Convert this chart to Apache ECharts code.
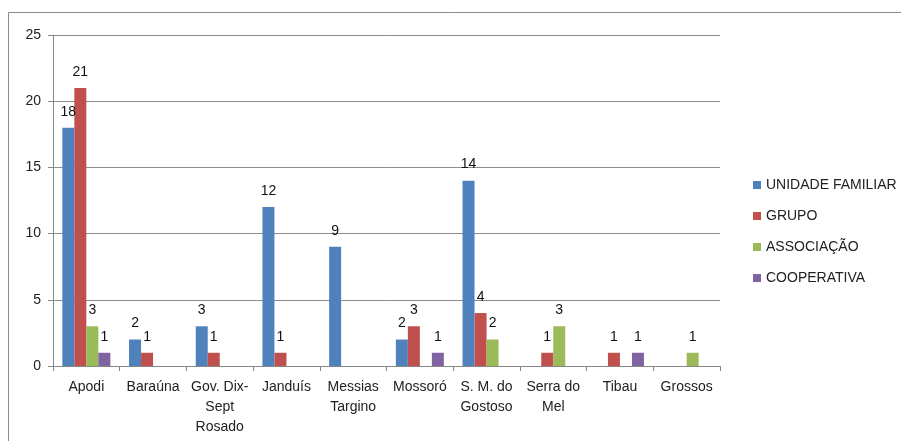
<!DOCTYPE html>
<html>
<head>
<meta charset="utf-8">
<script src="https://cdn.jsdelivr.net/npm/echarts@6/dist/echarts.min.js"></script>
<style>
  html, body { margin: 0; padding: 0; background: #fff; }
  #chart { width: 901px; height: 441px; }
</style>
</head>
<body>
<div id="chart"></div>
<script>
// categorias (municípios)
const categories = ['Apodi', 'Baraúna', 'Gov. Dix-\nSept\nRosado', 'Janduís', 'Messias\nTargino',
  'Mossoró', 'S. M. do\nGostoso', 'Serra do\nMel', 'Tibau', 'Grossos']
const seriesNames = ['UNIDADE FAMILIAR', 'GRUPO', 'ASSOCIAÇÃO', 'COOPERATIVA']
// null = sem barra
const unidadeFamiliar = [18, 2, 3, 12, 9, 2, 14, null, null, null]
const grupo = [21, 1, 1, 1, null, 3, 4, 1, 1, null]
const associacao = [3, null, null, null, null, null, 2, 3, null, 1]
const cooperativa = [1, null, null, null, null, 1, null, null, 1, null]
const yTicks = [0, 5, 10, 15, 20, 25]

const COLORS = ['#4F81BD', '#C0504D', '#9BBB59', '#8064A2']
const FONT = 'Liberation Sans'

const chart = echarts.init(document.getElementById('chart'))

const series = [unidadeFamiliar, grupo, associacao, cooperativa].map((d, i) => ({
  name: seriesNames[i],
  type: 'bar',
  data: d,
  barGap: '0%',
  barCategoryGap: '28%',
  itemStyle: { color: COLORS[i] },
  label: {
    show: true,
    position: 'top',
    distance: 9,
    color: '#111',
    fontSize: 14,
    fontFamily: FONT,
  },
}))

chart.setOption({
  animation: false,
  textStyle: { fontFamily: FONT },
  graphic: [{
    type: 'rect',
    shape: { x: 8.5, y: 12.5, width: 900, height: 440 },
    style: { fill: null, stroke: '#8a8a8a', lineWidth: 1 },
    silent: true,
  }],
  legend: {
    orient: 'vertical',
    left: 748,
    top: 173,
    itemWidth: 8,
    itemHeight: 8,
    itemGap: 17,
    icon: 'rect',
    textStyle: { color: '#222', fontSize: 14, fontFamily: FONT },
    data: seriesNames,
  },
  grid: { left: 53, right: 181, top: 35, bottom: 75 },
  xAxis: {
    type: 'category',
    data: categories,
    axisLine: { lineStyle: { color: '#868686' } },
    axisTick: { show: true, length: 5, lineStyle: { color: '#868686' } },
    axisLabel: { color: '#222', fontSize: 14, fontFamily: FONT, lineHeight: 20, margin: 11, interval: 0 },
  },
  yAxis: {
    type: 'value',
    min: yTicks[0],
    max: yTicks[yTicks.length - 1],
    interval: 5,
    axisLine: { show: true, lineStyle: { color: '#868686' } },
    axisTick: { show: true, length: 5, inside: false, lineStyle: { color: '#868686' } },
    axisLabel: { color: '#222', fontSize: 14, fontFamily: FONT, margin: 12 },
    splitLine: { lineStyle: { color: '#8c8c8c', width: 1 } },
  },
  series,
})
</script>
</body>
</html>
